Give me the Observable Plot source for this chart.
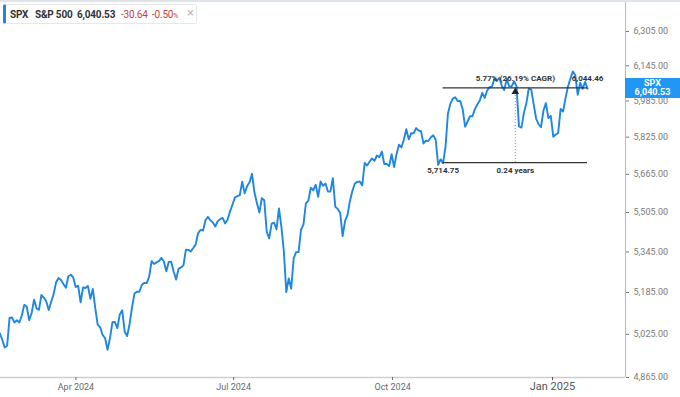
<!DOCTYPE html>
<html>
<head>
<meta charset="utf-8">
<script src="https://cdn.jsdelivr.net/npm/d3@7"></script>
<script src="https://cdn.jsdelivr.net/npm/@observablehq/plot@0.6"></script>
<style>
  body { margin: 0; background: #fff; }
  #wrap { position: relative; width: 680px; height: 397px; overflow: hidden; font-family: Roboto, sans-serif; }
  #topline { position: absolute; left: 0; top: 0; width: 680px; height: 0; border-top: 2px solid #dfe3ea; }
  #legend { position: absolute; left: 3px; top: 4px; width: 194px; height: 20px; border: 1px solid #e8e8e8; border-left: 3px solid #1f87e0; border-radius: 2px; background: #fff; box-sizing: border-box; }
  #legend .item { position: absolute; top: 3px; font-size: 10px; line-height: 13px; white-space: nowrap; letter-spacing: -0.2px; }
  .dark { color: #333; font-weight: bold; }
  .red { color: #c9403a; }
  #price { position: absolute; left: 625px; width: 55px; height: 20px; background: #2196f3; color: #fff; font-weight: bold; font-size: 9px; line-height: 9px; text-align: center; padding-top: 1px; box-sizing: border-box; }
</style>
</head>
<body>
<div id="wrap"></div>
<script>
// S&P 500 daily closes, 2024-02-14 .. 2025-01-31 (trading days)
const closes = [
  5000.62, 5029.73, 5005.57, 4975.51, 4981.80, 5087.03, 5088.80, 5069.53, 5078.18, 5069.76, 5096.27,
  5137.08, 5130.95, 5078.65, 5104.76, 5157.36, 5123.69, 5117.94, 5175.27, 5165.31, 5150.48, 5117.09, 5149.42, 5178.51, 5224.62, 5241.53, 5234.18, 5218.19, 5203.58, 5248.49, 5254.35,
  5243.77, 5205.81, 5211.49, 5147.21, 5204.34, 5202.39, 5209.91, 5160.64, 5199.06, 5123.41, 5061.82, 5051.41, 5022.21, 5011.12, 4967.23, 5010.60, 5070.55, 5071.63, 5048.42, 5099.96, 5116.17, 5035.69,
  5018.39, 5064.20, 5127.79, 5180.74, 5187.70, 5187.67, 5214.08, 5222.68, 5221.42, 5246.68, 5308.15, 5297.10, 5303.27, 5308.13, 5321.41, 5307.01, 5267.84, 5304.72, 5306.04, 5266.95, 5235.48, 5277.51,
  5283.40, 5291.34, 5354.03, 5352.96, 5346.99, 5360.79, 5375.32, 5421.03, 5433.74, 5431.60, 5473.23, 5487.03, 5473.17, 5464.62, 5447.87, 5469.30, 5477.90, 5482.87, 5460.48,
  5475.09, 5509.01, 5537.02, 5567.19, 5572.85, 5576.98, 5633.91, 5584.54, 5615.35, 5631.22, 5667.20, 5588.27, 5544.59, 5505.00, 5564.41, 5555.74, 5427.13, 5399.22, 5459.10, 5463.54, 5436.44, 5522.30,
  5446.68, 5346.56, 5186.33, 5240.03, 5199.50, 5319.31, 5344.16, 5344.39, 5434.43, 5455.21, 5543.22, 5554.25, 5608.25, 5597.12, 5620.85, 5570.64, 5634.61, 5616.84, 5625.80, 5592.18, 5591.96, 5648.40,
  5528.93, 5520.07, 5503.41, 5408.42, 5471.05, 5495.52, 5554.13, 5595.76, 5626.02, 5633.09, 5634.58, 5618.26, 5713.64, 5702.55, 5718.57, 5732.93, 5722.26, 5745.37, 5738.17, 5762.48,
  5708.75, 5709.54, 5699.94, 5751.07, 5695.94, 5751.13, 5792.04, 5780.05, 5815.03, 5859.85, 5815.26, 5842.47, 5841.47, 5864.67, 5853.98, 5851.20, 5797.42, 5809.86, 5808.12, 5823.52, 5832.92, 5813.67, 5705.45,
  5728.80, 5712.69, 5782.76, 5929.04, 5973.10, 5995.54, 6001.35, 5983.99, 5985.38, 5949.17, 5870.62, 5893.62, 5916.98, 5917.11, 5948.71, 5969.34, 5987.37, 6021.63, 5998.74, 6032.38,
  6047.15, 6049.88, 6086.49, 6075.11, 6090.27, 6052.85, 6034.91, 6084.19, 6051.25, 6051.09, 6074.08, 6050.61, 5872.16, 5867.08, 5930.85, 5974.07, 6040.04, 6037.59, 5970.84, 5906.94, 5881.63,
  5868.55, 5942.47, 5975.38, 5909.03, 5918.25, 5827.04, 5836.22, 5842.91, 5949.91, 5937.34, 5996.66, 6049.24, 6086.37, 6118.71, 6101.24, 6012.28, 6067.70, 6039.31, 6071.17, 6040.53
];

const yTicks = [4865, 5025, 5185, 5345, 5505, 5665, 5825, 5985, 6145, 6305];
const xTickPositions = [32.1, 96.5, 161.4, 226.7];   // trading-day index of each label
const xTickLabels = ["Apr 2024", "Jul 2024", "Oct 2024", "Jan 2025"];
const xDomain = [1.3, 256.5];
const yDomain = [4865, 6453];

// measurement tool
const measureIdx = [182, 241];               // start / end trading-day index
const measureLevels = [5714.75, 6044.46];    // low / high
const measureTexts = ["5.77% (26.19% CAGR)", "0.24 years"];

const headerSymbol = "SPX";
const headerName = "S&P 500";
const headerLast = "6,040.53";
const headerChange = "-30.64";
const headerPct = "-0.50";

const series = closes.map((v, i) => ({i, v}));
const fmt = d3.format(",.2f");
const midIdx = (measureIdx[0] + measureIdx[1]) / 2;
const [lowLevel, highLevel] = measureLevels;

const topLabels = [
  {x: midIdx, y: highLevel, t: measureTexts[0]},
  {x: measureIdx[1], y: highLevel, t: fmt(highLevel)}
];
const bottomLabels = [
  {x: measureIdx[0], y: lowLevel, t: fmt(lowLevel)},
  {x: midIdx, y: lowLevel, t: measureTexts[1]}
];

const chart = Plot.plot({
  width: 680,
  height: 397,
  marginLeft: 0,
  marginRight: 55,
  marginTop: 0,
  marginBottom: 20,
  style: {fontFamily: "Roboto, sans-serif", background: "transparent"},
  x: {type: "linear", domain: xDomain, axis: null},
  y: {type: "log", domain: yDomain, axis: null},
  marks: [
    Plot.ruleY([yDomain[0]], {stroke: "#cfcfcf", strokeWidth: 1.5}),
    Plot.ruleX([xDomain[1]], {stroke: "#b8b8b8", strokeWidth: 1}),
    Plot.axisY({ticks: yTicks, anchor: "right", tickFormat: fmt, tickSize: 3, tickPadding: 5, fontSize: 9, color: "#7a7a7a"}),
    Plot.axisX({ticks: xTickPositions.slice(0, 3), tickFormat: d => xTickLabels[xTickPositions.indexOf(d)], tickSize: 3, tickPadding: 3, fontSize: 9, color: "#6a6a6a"}),
    Plot.axisX({ticks: xTickPositions.slice(3), tickFormat: d => xTickLabels[xTickPositions.indexOf(d)], tickSize: 3, tickPadding: 2, fontSize: 11, color: "#555"}),
    Plot.line(series, {x: "i", y: "v", stroke: "#1f87e0", strokeWidth: 1.9, clip: true}),
    Plot.ruleY(measureLevels, {x1: () => measureIdx[0], x2: () => measureIdx[1], stroke: "#333", strokeWidth: 1.2}),
    Plot.ruleX([midIdx], {y1: () => lowLevel, y2: () => highLevel, stroke: "#8a8a8a", strokeWidth: 1, strokeDasharray: "1,2"}),
    Plot.dot([midIdx], {x: d => d, y: () => highLevel, symbol: "triangle", r: 2.8, fill: "#222", stroke: null, dy: 4}),
    Plot.text(topLabels, {x: "x", y: "y", text: "t", dy: -9, fontSize: 8, fontWeight: "bold", fill: "#333"}),
    Plot.text(bottomLabels, {x: "x", y: "y", text: "t", dy: 8, fontSize: 8, fontWeight: "bold", fill: "#333"})
  ]
});

const wrapEl = document.getElementById("wrap");
wrapEl.appendChild(chart);

const topLineEl = document.createElement("div");
topLineEl.id = "topline";
wrapEl.appendChild(topLineEl);

const legendEl = document.createElement("div");
legendEl.id = "legend";
legendEl.innerHTML =
  `<span class="item dark" style="left:4px">${headerSymbol}</span>` +
  `<span class="item dark" style="left:29px">${headerName}</span>` +
  `<span class="item dark" style="left:71px">${headerLast}</span>` +
  `<span class="item red" style="left:115px">${headerChange}</span>` +
  `<span class="item red" style="left:146px">${headerPct}<span style="font-size:7px">%</span></span>` +
  `<span class="item" style="left:181px;color:#bbb;font-size:13px;top:1px">×</span>`;
wrapEl.appendChild(legendEl);

const lastClose = closes[closes.length - 1];
const priceY = chart.scale("y").apply(lastClose);
const priceEl = document.createElement("div");
priceEl.id = "price";
priceEl.style.top = (priceY - 10) + "px";
priceEl.innerHTML = `${headerSymbol}<br>${fmt(lastClose)}`;
wrapEl.appendChild(priceEl);
</script>
</body>
</html>
